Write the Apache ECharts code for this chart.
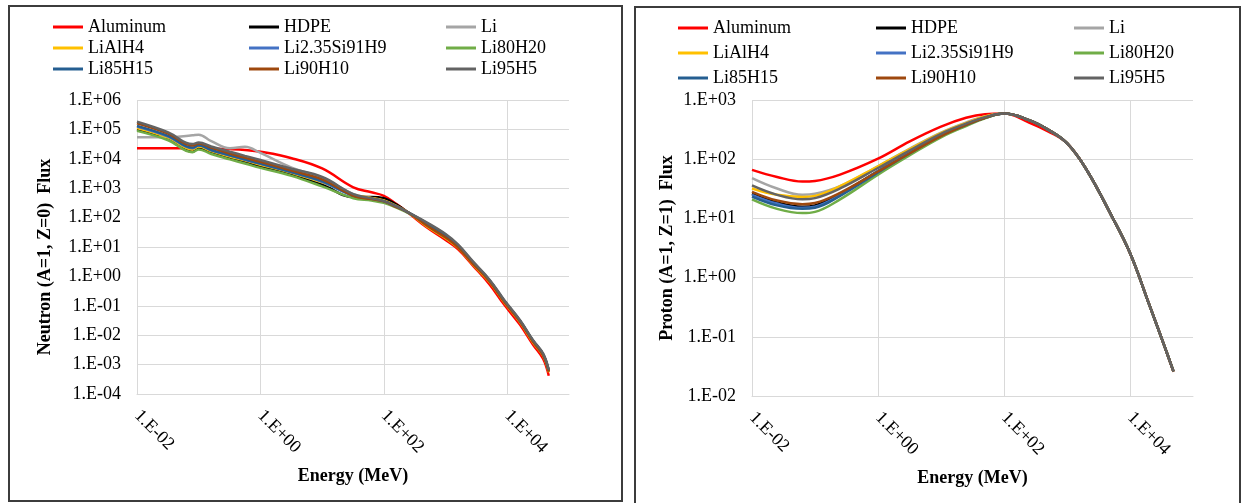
<!DOCTYPE html>
<html>
<head>
<meta charset="utf-8">
<script src="https://cdn.jsdelivr.net/npm/echarts@6/dist/echarts.min.js"></script>
<style>
  html, body { margin: 0; padding: 0; background: #fff; width: 1243px; height: 503px; overflow: hidden; }
  .panel { position: absolute; border: 2px solid #3c3c3c; background: #fff; }
  #neutron { left: 8px; top: 5px; width: 611px; height: 493px; }
  #proton { left: 634px; top: 6px; width: 603px; height: 500px; }
</style>
</head>
<body>
<div id="neutron" class="panel"></div>
<div id="proton" class="panel"></div>
<script>
const names = ['Aluminum', 'HDPE', 'Li', 'LiAlH4', 'Li2.35Si91H9', 'Li80H20', 'Li85H15', 'Li90H10', 'Li95H5']
const colors = ['#ff0000', '#000000', '#a5a5a5', '#ffc000', '#4472c4', '#70ad47', '#255e91', '#9e480e', '#636363']

// neutron flux vs energy (MeV)
const neutronEnergy = [0.01, 0.032, 0.079, 0.1, 0.16, 0.32, 0.56, 1, 3.2, 10, 32, 63, 100, 160, 260, 500, 1000, 1600, 2800, 5200, 8900, 16000, 26000, 38000, 47000]
const neutronAluminum = [22900, 22900, 22900, 22900, 22400, 21400, 20000, 17400, 10500, 4680, 1070, 724, 550, 288, 135, 45.7, 17.4, 8.3, 2.29, 0.525, 0.11, 0.0229, 0.0048, 0.00158, 0.00042]
const neutronHDPE = [100000, 45700, 17400, 22400, 15800, 10500, 7590, 5500, 2880, 1320, 501, 501, 457, 275, 141, 60.3, 24.0, 10.5, 2.82, 0.692, 0.145, 0.0302, 0.00631, 0.00219, 0.000603]
const neutronLi = [53700, 53700, 63100, 66100, 39800, 22900, 25700, 15800, 5010, 2290, 631, 457, 355, 240, 141, 64.6, 26.3, 11.5, 3.02, 0.724, 0.151, 0.0316, 0.00661, 0.00229, 0.00063]
const neutronLiAlH4 = [112000, 52500, 20900, 26300, 18200, 12000, 8910, 6310, 3310, 1580, 603, 468, 380, 251, 141, 50.1, 20.0, 9.33, 2.51, 0.631, 0.132, 0.0282, 0.00575, 0.002, 0.00055]
const neutronLi235Si91H9 = [126000, 57500, 22900, 28200, 19500, 12900, 9330, 6760, 3470, 1660, 550, 437, 363, 240, 141, 61.7, 25.1, 11.0, 2.88, 0.708, 0.148, 0.0309, 0.00646, 0.00224, 0.000617]
const neutronLi80H20 = [89100, 42700, 16600, 20900, 14500, 9550, 6920, 4900, 2630, 1150, 457, 380, 316, 219, 135, 58.9, 23.4, 10.5, 2.82, 0.692, 0.145, 0.0302, 0.00631, 0.00219, 0.000603]
const neutronLi85H15 = [132000, 60300, 24000, 28800, 20000, 13200, 9550, 6920, 3550, 1740, 575, 437, 363, 240, 141, 63.1, 25.1, 11.0, 2.88, 0.708, 0.148, 0.0309, 0.00646, 0.00224, 0.000617]
const neutronLi90H10 = [162000, 72400, 28200, 33100, 24000, 15100, 11000, 7940, 3980, 2000, 550, 427, 355, 229, 141, 52.5, 20.9, 9.55, 2.63, 0.661, 0.138, 0.0295, 0.00603, 0.00209, 0.000575]
const neutronLi95H5 = [182000, 79400, 31600, 35500, 26300, 17400, 12600, 9120, 4570, 2400, 631, 457, 363, 240, 141, 67.6, 27.5, 12.0, 3.16, 0.759, 0.158, 0.0331, 0.00692, 0.0024, 0.00066]

// proton flux vs energy (MeV)
const protonEnergy = [0.01, 0.025, 0.063, 0.1, 0.25, 1, 3.2, 10, 25, 50, 100, 250, 500, 1000, 2000, 5000, 10000, 20000, 35000, 49000]
const protonAluminum = [66, 50, 42, 43, 55, 102, 200, 355, 500, 575, 589, 417, 295, 186, 69, 11.5, 2.57, 0.363, 0.0708, 0.0257]
const protonHDPE = [26, 18.6, 15.8, 16.6, 26, 63, 132, 257, 389, 501, 589, 457, 316, 186, 69, 11.5, 2.6, 0.36, 0.071, 0.026]
const protonLi = [48, 32, 25, 26, 35, 76, 151, 282, 417, 525, 589, 457, 316, 186, 69, 11.5, 2.6, 0.36, 0.071, 0.026]
const protonLiAlH4 = [32, 25, 23, 24, 35, 76, 148, 275, 407, 525, 589, 457, 316, 186, 69, 11.5, 2.6, 0.36, 0.071, 0.026]
const protonLi235Si91H9 = [25, 17.8, 15.1, 15.8, 25, 63, 132, 257, 389, 501, 589, 457, 316, 186, 69, 11.5, 2.6, 0.36, 0.071, 0.026]
const protonLi80H20 = [21, 14.5, 12.3, 12.9, 21, 55, 117, 234, 363, 490, 589, 457, 316, 186, 69, 11.5, 2.6, 0.36, 0.071, 0.026]
const protonLi85H15 = [23.4, 16.6, 14.5, 15.1, 24, 60, 126, 251, 380, 501, 589, 457, 316, 186, 69, 11.5, 2.6, 0.36, 0.071, 0.026]
const protonLi90H10 = [28, 20, 17.4, 18.2, 27, 62, 126, 245, 380, 501, 589, 457, 316, 186, 69, 11.5, 2.6, 0.36, 0.071, 0.026]
const protonLi95H5 = [36, 25, 21, 22, 32, 71, 141, 269, 398, 513, 589, 457, 316, 186, 69, 11.5, 2.6, 0.36, 0.071, 0.026]

const neutronFlux = [neutronAluminum, neutronHDPE, neutronLi, neutronLiAlH4, neutronLi235Si91H9, neutronLi80H20, neutronLi85H15, neutronLi90H10, neutronLi95H5]
const protonFlux = [protonAluminum, protonHDPE, protonLi, protonLiAlH4, protonLi235Si91H9, protonLi80H20, protonLi85H15, protonLi90H10, protonLi95H5]

const font = 'Liberation Serif'
const gridColor = '#d9d9d9'

function sci(v) {
  const e = Math.round(Math.log10(v))
  return '1.E' + (e < 0 ? '-' : '+') + String(Math.abs(e)).padStart(2, '0')
}

function legends(cols, top, gap) {
  return [0, 1, 2].map(c => ({
    orient: 'vertical',
    left: cols[c],
    top: top,
    itemGap: gap,
    itemWidth: 30,
    itemHeight: 3,
    icon: 'rect',
    selectedMode: false,
    textStyle: { fontFamily: font, fontSize: 18, color: '#000' },
    data: [names[c], names[c + 3], names[c + 6]]
  }))
}

function makeOption(cfg) {
  return {
    animation: false,
    legend: legends(cfg.legendLeft, cfg.legendTop, cfg.legendGap),
    grid: cfg.grid,
    xAxis: {
      type: 'log',
      logBase: 10,
      min: 0.01,
      max: 100000,
      interval: 2,
      name: 'Energy (MeV)',
      nameLocation: 'middle',
      nameGap: cfg.xNameGap,
      nameTextStyle: { fontFamily: font, fontSize: 18, fontWeight: 'bold', color: '#000' },
      axisLine: { lineStyle: { color: gridColor } },
      axisTick: { show: false },
      axisLabel: { rotate: -45, margin: 19, formatter: sci, showMaxLabel: false, fontFamily: font, fontSize: 18, color: '#000' },
      splitLine: { show: true, showMaxLine: false, lineStyle: { color: gridColor } }
    },
    yAxis: {
      type: 'log',
      logBase: 10,
      min: cfg.yMin,
      max: cfg.yMax,
      interval: 1,
      name: cfg.yName,
      nameLocation: 'middle',
      nameGap: cfg.yNameGap,
      nameMoveOverlap: false,
      nameTextStyle: { fontFamily: font, fontSize: 18, fontWeight: 'bold', color: '#000', padding: cfg.yNamePad },
      axisLine: { show: false },
      axisTick: { show: false },
      axisLabel: { margin: 16, formatter: sci, fontFamily: font, fontSize: 18, color: '#000' },
      splitLine: { lineStyle: { color: gridColor } }
    },
    series: names.map((n, i) => ({
      name: n,
      type: 'line',
      color: colors[i],
      showSymbol: false,
      smooth: 0.4,
      lineStyle: { width: 2.5 },
      data: cfg.energy.map((e, k) => [e, cfg.flux[i][k]])
    }))
  }
}

const neutronChart = echarts.init(document.getElementById('neutron'))
neutronChart.setOption(makeOption({
  legendLeft: [38, 234, 431], legendTop: 6, legendGap: 3,
  grid: { left: 127, top: 93, width: 432, height: 294 },
  xNameGap: 73, yNameGap: 83, yNamePad: [0, 20, 0, 0],
  yMin: 1e-4, yMax: 1e6,
  yName: 'Neutron (A=1, Z=0)  Flux',
  energy: neutronEnergy, flux: neutronFlux
}))

const protonChart = echarts.init(document.getElementById('proton'))
protonChart.setOption(makeOption({
  legendLeft: [37, 235, 433], legendTop: 6, legendGap: 7,
  grid: { left: 116, top: 92, width: 441, height: 296 },
  xNameGap: 73, yNameGap: 76, yNamePad: 0,
  yMin: 1e-2, yMax: 1e3,
  yName: 'Proton (A=1, Z=1)  Flux',
  energy: protonEnergy, flux: protonFlux
}))
</script>
</body>
</html>
